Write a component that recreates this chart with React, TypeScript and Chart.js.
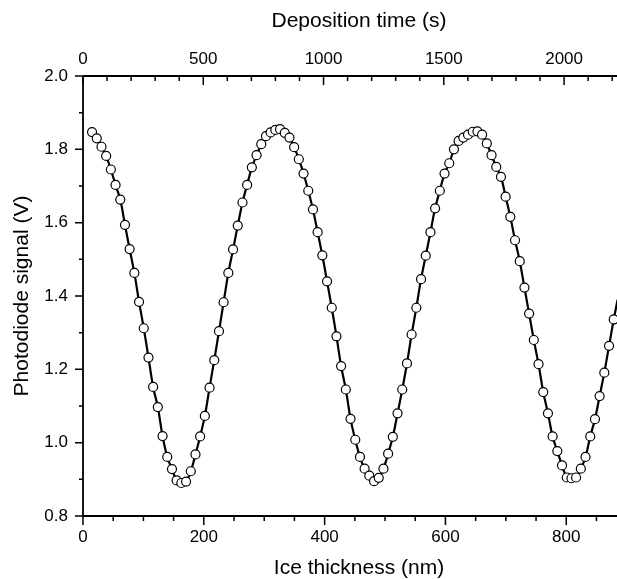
import React, { useEffect, useRef } from 'react';
import { Chart, registerables } from 'chart.js';

Chart.register(...registerables);

// Ice thickness (nm) of each measured point
const thicknessNm = [
  15.0, 22.8, 30.6, 38.3, 46.1, 53.9, 61.7, 69.5, 77.2, 85.0,
  92.8, 100.6, 108.4, 116.1, 123.9, 131.7, 139.5, 147.3, 155.0, 162.8,
  170.6, 178.4, 186.2, 193.9, 201.7, 209.5, 217.3, 225.1, 232.8, 240.6,
  248.4, 256.2, 264.0, 271.7, 279.5, 287.3, 295.1, 302.9, 310.6, 318.4,
  326.2, 334.0, 341.8, 349.5, 357.3, 365.1, 372.9, 380.7, 388.4, 396.2,
  404.0, 411.8, 419.6, 427.3, 435.1, 442.9, 450.7, 458.5, 466.2, 474.0,
  481.8, 489.6, 497.4, 505.1, 512.9, 520.7, 528.5, 536.3, 544.0, 551.8,
  559.6, 567.4, 575.2, 582.9, 590.7, 598.5, 606.3, 614.1, 621.8, 629.6,
  637.4, 645.2, 653.0, 660.7, 668.5, 676.3, 684.1, 691.9, 699.6, 707.4,
  715.2, 723.0, 730.8, 738.5, 746.3, 754.1, 761.9, 769.7, 777.4, 785.2,
  793.0, 800.8, 808.6, 816.3, 824.1, 831.9, 839.7, 847.5, 855.2, 863.0,
  870.8, 878.6,
];

// Photodiode signal (V) of each measured point
const signalV = [
  1.847, 1.830, 1.807, 1.782, 1.745, 1.703, 1.663, 1.594, 1.528, 1.463,
  1.384, 1.312, 1.232, 1.152, 1.097, 1.018, 0.961, 0.928, 0.897, 0.890,
  0.894, 0.922, 0.968, 1.017, 1.073, 1.150, 1.225, 1.304, 1.383, 1.463,
  1.527, 1.592, 1.655, 1.703, 1.751, 1.784, 1.814, 1.836, 1.846, 1.853,
  1.855, 1.845, 1.832, 1.806, 1.773, 1.734, 1.687, 1.636, 1.574, 1.511,
  1.440, 1.368, 1.290, 1.209, 1.145, 1.065, 1.008, 0.961, 0.929, 0.910,
  0.895, 0.904, 0.929, 0.970, 1.016, 1.080, 1.145, 1.216, 1.295, 1.368,
  1.446, 1.510, 1.574, 1.639, 1.687, 1.734, 1.762, 1.800, 1.823, 1.832,
  1.840, 1.848, 1.849, 1.840, 1.816, 1.784, 1.752, 1.725, 1.671, 1.616,
  1.552, 1.495, 1.423, 1.352, 1.280, 1.214, 1.138, 1.080, 1.017, 0.977,
  0.938, 0.905, 0.903, 0.905, 0.929, 0.961, 1.017, 1.064, 1.127, 1.191,
  1.264, 1.336,
];

// fitted curve continues past the last point to the (cropped) right edge
const fitTailNm = [885];
const fitTailV = [1.39];

const bottomTickLabels = [0, 200, 400, 600, 800];
const topTickLabels = [0, 500, 1000, 1500, 2000];
const yTickLabels = [0.8, 1.0, 1.2, 1.4, 1.6, 1.8, 2.0];

const X_MIN = 0;
const X_MAX = 884;
const X2_MAX = 2220;
const Y_MIN = 0.8;
const Y_MAX = 2.0;

const TOP_TITLE = 'Deposition time (s)';
const BOTTOM_TITLE = 'Ice thickness (nm)';
const Y_TITLE = 'Photodiode signal (V)';

const FONT = '"Liberation Sans", Arial, Helvetica, sans-serif';

const framePlugin = {
  id: 'frame',
  afterDatasetsDraw(chart: any) {
    const { ctx, chartArea: a, scales } = chart;
    const x = scales.x;
    const x2 = scales.x2;
    const y = scales.y;
    ctx.save();
    ctx.strokeStyle = '#000';
    ctx.lineWidth = 1.8;
    ctx.beginPath();
    ctx.moveTo(a.left, a.top);
    ctx.lineTo(a.right, a.top);
    ctx.moveTo(a.left, a.top);
    ctx.lineTo(a.left, a.bottom);
    ctx.moveTo(a.left, a.bottom);
    ctx.lineTo(a.right, a.bottom);
    ctx.stroke();

    ctx.lineWidth = 1.5;
    ctx.beginPath();
    // bottom axis: major every 200, minor every 50, outward
    for (let v = X_MIN; v <= X_MAX; v += 50) {
      const px = x.getPixelForValue(v);
      const len = v % 200 === 0 ? 9 : 5;
      ctx.moveTo(px, a.bottom);
      ctx.lineTo(px, a.bottom + len);
    }
    // top axis: major every 500, minor every 100, inward
    for (let v = 0; v <= X2_MAX; v += 100) {
      const px = x2.getPixelForValue(v);
      const len = v % 500 === 0 ? 9 : 5;
      ctx.moveTo(px, a.top);
      ctx.lineTo(px, a.top + len);
    }
    // left axis: major every 0.2, minor every 0.1, outward
    for (let i = 0; i <= 12; i++) {
      const v = Y_MIN + i * 0.1;
      const py = y.getPixelForValue(v);
      const len = i % 2 === 0 ? 8 : 4;
      ctx.moveTo(a.left, py);
      ctx.lineTo(a.left - len, py);
    }
    ctx.stroke();

    // axis titles for the horizontal axes (centred on the uncropped frame)
    ctx.fillStyle = '#000';
    ctx.font = `21px ${FONT}`;
    ctx.textAlign = 'center';
    ctx.textBaseline = 'middle';
    const cx = 359;
    ctx.fillText(TOP_TITLE, cx, 21);
    ctx.fillText(BOTTOM_TITLE, cx, 568);
    ctx.restore();
  },
};

export default function App() {
  const canvasRef = useRef<HTMLCanvasElement | null>(null);

  useEffect(() => {
    const canvas = canvasRef.current;
    if (!canvas) return;

    const points = thicknessNm.map((t, i) => ({ x: t, y: signalV[i] }));
    const linePts = points.concat(fitTailNm.map((t, i) => ({ x: t, y: fitTailV[i] })));

    const tickFont = { family: FONT, size: 17 };
    const titleFont = { family: FONT, size: 21 };

    const chart = new Chart(canvas, {
      type: 'scatter',
      data: {
        datasets: [
          {
            label: 'data',
            data: points,
            showLine: false,
            pointRadius: 4.5,
            pointBorderWidth: 1.2,
            pointBorderColor: '#000',
            pointBackgroundColor: '#fff',
            borderColor: '#000',
            backgroundColor: '#fff',
            order: 0,
            xAxisID: 'x',
            yAxisID: 'y',
          },
          {
            type: 'line',
            label: 'fit',
            data: linePts,
            showLine: true,
            borderColor: '#000',
            borderWidth: 2.2,
            pointRadius: 0,
            tension: 0.35,
            fill: false,
            order: 1,
            xAxisID: 'x',
            yAxisID: 'y',
          },
        ],
      } as any,
      options: {
        responsive: false,
        animation: false,
        devicePixelRatio: 1,
        layout: { padding: 0, autoPadding: false },
        plugins: {
          legend: { display: false },
          tooltip: { enabled: false },
        },
        scales: {
          x: {
            type: 'linear',
            position: 'bottom',
            min: X_MIN,
            max: X_MAX,
            afterFit: (s: any) => { s.height = 63; s.paddingLeft = 0; s.paddingRight = 0; },
            afterBuildTicks: (s: any) => { s.ticks = bottomTickLabels.map((v) => ({ value: v })); },
            ticks: {
              font: tickFont, color: '#000', padding: 11, maxRotation: 0, includeBounds: false,
              callback: (v: any) => String(v),
            },
            grid: { display: true, drawOnChartArea: false, drawTicks: false },
            border: { display: false },
            title: { display: false },
          },
          x2: {
            type: 'linear',
            axis: 'x',
            position: 'top',
            min: 0,
            max: X2_MAX,
            afterFit: (s: any) => { s.height = 76; s.paddingLeft = 0; s.paddingRight = 0; },
            afterBuildTicks: (s: any) => { s.ticks = topTickLabels.map((v) => ({ value: v })); },
            ticks: {
              font: tickFont, color: '#000', padding: 6, maxRotation: 0, includeBounds: false,
              callback: (v: any) => String(v),
            },
            grid: { display: true, drawOnChartArea: false, drawTicks: false },
            border: { display: false },
            title: { display: false },
          },
          y: {
            type: 'linear',
            position: 'left',
            min: Y_MIN,
            max: Y_MAX,
            afterFit: (s: any) => { s.width = 83; },
            afterBuildTicks: (s: any) => { s.ticks = yTickLabels.map((v) => ({ value: v })); },
            ticks: {
              font: tickFont,
              color: '#000',
              padding: 15,
              callback: (v: any) => Number(v).toFixed(1),
            },
            grid: { display: true, drawOnChartArea: false, drawTicks: false },
            border: { display: false },
            title: {
              display: true,
              text: Y_TITLE,
              font: titleFont,
              color: '#000',
              padding: { top: 10, bottom: 0 },
            },
          },
        },
      } as any,
      plugins: [framePlugin],
    });

    return () => chart.destroy();
  }, []);

  return (
    <div style={{ position: 'absolute', left: 0, top: 0, width: 617, height: 579, overflow: 'hidden', background: '#fff' }}>
      <canvas ref={canvasRef} width={617} height={579} style={{ display: 'block' }} />
    </div>
  );
}
